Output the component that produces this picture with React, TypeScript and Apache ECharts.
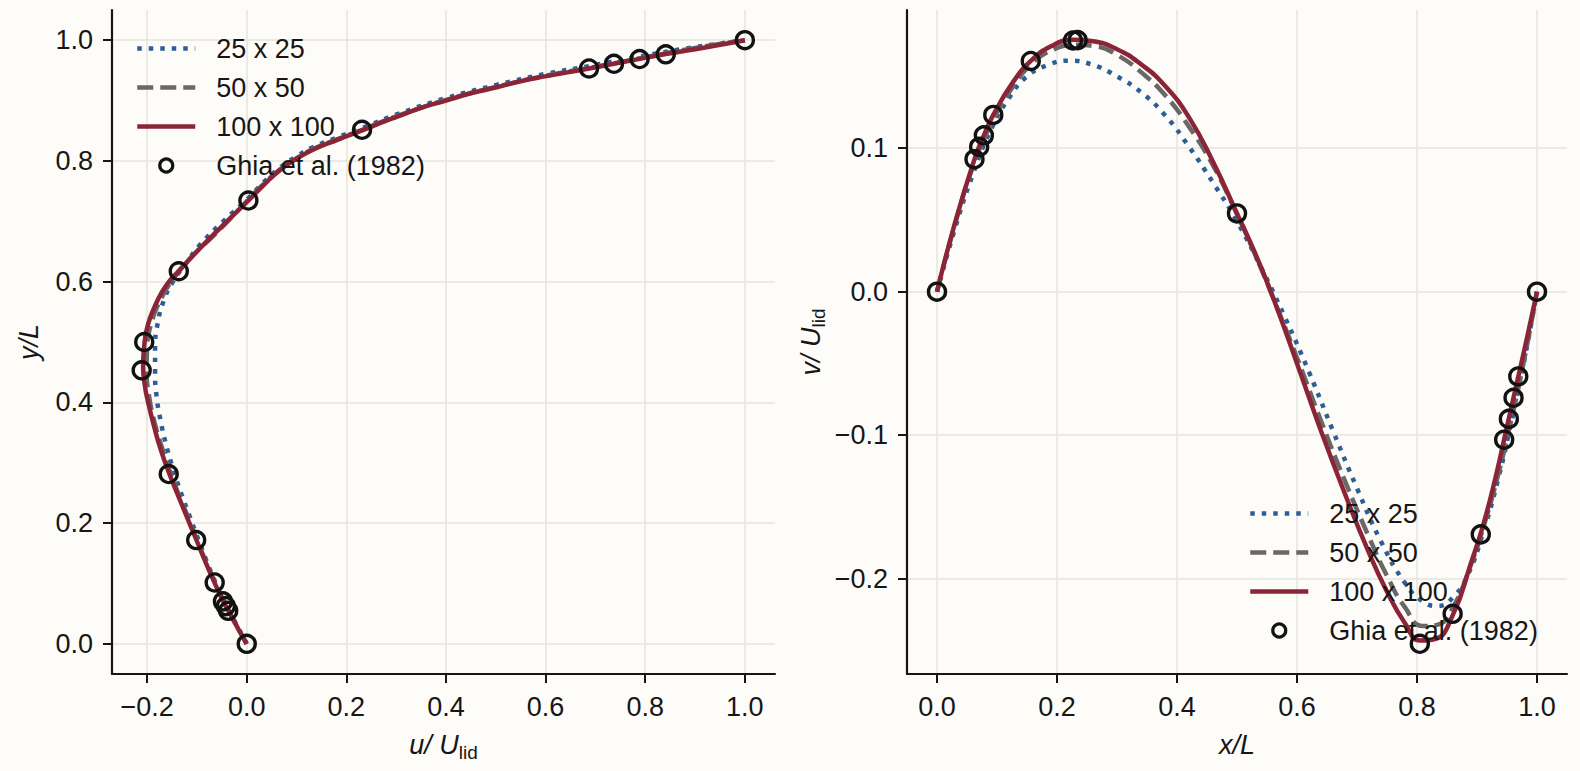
import React, { useEffect, useRef } from "react";
import * as echarts from "echarts";

// ---- u-velocity along the vertical centreline (x = u/U_lid, y = y/L) ----
const ghiaUY = [0, 0.0547, 0.0625, 0.0703, 0.1016, 0.1719, 0.2813, 0.4531, 0.5, 0.6172, 0.7344, 0.8516, 0.9531, 0.9609, 0.9688, 0.9766, 1];
const ghiaU = [0, -0.03717, -0.04192, -0.04775, -0.06434, -0.1015, -0.15662, -0.2109, -0.20581, -0.13641, 0.00332, 0.23151, 0.68717, 0.73722, 0.78871, 0.84123, 1];

const u25Y = [0, 0.04, 0.07, 0.1, 0.14, 0.172, 0.21, 0.25, 0.29, 0.33, 0.37, 0.41, 0.45, 0.49, 0.53, 0.57, 0.6, 0.63, 0.66, 0.7, 0.738, 0.764, 0.789, 0.807, 0.823, 0.839, 0.855, 0.877, 0.904, 0.926, 0.944, 0.957, 0.973, 0.986, 1];
const u25 = [0, -0.026, -0.045, -0.062, -0.082, -0.097, -0.114, -0.132, -0.148, -0.162, -0.173, -0.181, -0.184, -0.184, -0.179, -0.166, -0.148, -0.122, -0.095, -0.047, 0.003, 0.033, 0.067, 0.099, 0.134, 0.182, 0.233, 0.301, 0.4, 0.502, 0.599, 0.687, 0.789, 0.88, 1];

const u50Y = [0, 0.04, 0.07, 0.1, 0.14, 0.172, 0.21, 0.25, 0.29, 0.33, 0.37, 0.41, 0.45, 0.49, 0.53, 0.57, 0.605, 0.64, 0.68, 0.735, 0.761, 0.786, 0.804, 0.82, 0.836, 0.852, 0.874, 0.901, 0.923, 0.941, 0.954, 0.97, 0.985, 1];
const u50 = [0, -0.027, -0.046, -0.063, -0.084, -0.1, -0.118, -0.138, -0.156, -0.172, -0.186, -0.196, -0.201, -0.2, -0.192, -0.173, -0.147, -0.112, -0.062, 0.002, 0.033, 0.067, 0.099, 0.134, 0.182, 0.233, 0.301, 0.4, 0.502, 0.599, 0.687, 0.789, 0.885, 1];

const u100Y = [0, 0.02, 0.04, 0.055, 0.07, 0.1, 0.14, 0.172, 0.21, 0.25, 0.281, 0.32, 0.36, 0.4, 0.43, 0.46, 0.5, 0.52, 0.54, 0.56, 0.58, 0.6, 0.617, 0.65, 0.69, 0.734, 0.76, 0.785, 0.803, 0.819, 0.835, 0.851, 0.865, 0.873, 0.888, 0.9, 0.912, 0.922, 0.932, 0.94, 0.953, 0.961, 0.969, 0.977, 0.988, 1];
const u100 = [0, -0.014, -0.027, -0.037, -0.047, -0.064, -0.085, -0.101, -0.12, -0.14, -0.155, -0.172, -0.186, -0.198, -0.205, -0.208, -0.205, -0.201, -0.194, -0.184, -0.172, -0.156, -0.137, -0.1, -0.052, 0.003, 0.034, 0.067, 0.099, 0.134, 0.182, 0.233, 0.275, 0.301, 0.35, 0.4, 0.45, 0.502, 0.55, 0.599, 0.687, 0.737, 0.789, 0.841, 0.92, 1];

// ---- v-velocity along the horizontal centreline (x = x/L, y = v/U_lid) ----
const ghiaX = [0, 0.0625, 0.0703, 0.0781, 0.0938, 0.1563, 0.2266, 0.2344, 0.5, 0.8047, 0.8594, 0.9063, 0.9453, 0.9531, 0.9609, 0.9688, 1];
const ghiaV = [0, 0.09233, 0.10091, 0.1089, 0.12317, 0.16077, 0.17507, 0.17527, 0.05454, -0.24533, -0.22445, -0.16914, -0.10313, -0.08864, -0.07391, -0.05906, 0];

const v25X = [0, 0.03, 0.06, 0.09, 0.12, 0.15, 0.185, 0.22, 0.26, 0.3, 0.34, 0.38, 0.42, 0.46, 0.5, 0.54, 0.58, 0.62, 0.66, 0.7, 0.74, 0.78, 0.81, 0.835, 0.86, 0.885, 0.91, 0.935, 0.955, 0.975, 1];
const v25 = [0, 0.044, 0.082, 0.113, 0.135, 0.15, 0.158, 0.161, 0.158, 0.15, 0.139, 0.123, 0.101, 0.076, 0.049, 0.017, -0.018, -0.056, -0.097, -0.137, -0.174, -0.203, -0.216, -0.219, -0.213, -0.197, -0.168, -0.131, -0.095, -0.056, 0];

const v50X = [0, 0.03, 0.0625, 0.094, 0.125, 0.156, 0.19, 0.23, 0.265, 0.3, 0.34, 0.38, 0.42, 0.46, 0.5, 0.53, 0.56, 0.6, 0.64, 0.68, 0.72, 0.75, 0.78, 0.81, 0.835, 0.86, 0.89, 0.91, 0.935, 0.955, 0.975, 1];
const v50 = [0, 0.047, 0.09, 0.12, 0.142, 0.158, 0.168, 0.172, 0.171, 0.165, 0.153, 0.137, 0.115, 0.088, 0.054, 0.026, -0.004, -0.046, -0.09, -0.132, -0.171, -0.198, -0.22, -0.233, -0.232, -0.22, -0.19, -0.165, -0.128, -0.093, -0.055, 0];

const v100X = [0, 0.03, 0.0625, 0.0781, 0.0938, 0.125, 0.1563, 0.19, 0.227, 0.26, 0.3, 0.34, 0.38, 0.42, 0.46, 0.5, 0.53, 0.56, 0.6, 0.64, 0.68, 0.72, 0.75, 0.78, 0.805, 0.83, 0.86, 0.89, 0.91, 0.93, 0.95, 0.97, 0.985, 1];
const v100 = [0, 0.048, 0.0923, 0.1089, 0.1232, 0.145, 0.1608, 0.171, 0.1755, 0.1745, 0.169, 0.1585, 0.1435, 0.1215, 0.0905, 0.0545, 0.027, -0.004, -0.05, -0.097, -0.141, -0.182, -0.209, -0.231, -0.243, -0.242, -0.225, -0.189, -0.163, -0.131, -0.094, -0.057, -0.029, 0];

const xTicks = [-0.2, 0, 0.2, 0.4, 0.6, 0.8, 1.0];
const yTicks = [0, 0.2, 0.4, 0.6, 0.8, 1.0];
const xTicksR = [0, 0.2, 0.4, 0.6, 0.8, 1.0];
const vTicks = [-0.2, -0.1, 0, 0.1];

const names = ["25 x 25", "50 x 50", "100 x 100", "Ghia et al. (1982)"];

const FONT = "'Liberation Sans', Arial, Helvetica, sans-serif";
const INK = "#161616";
const BLUE = "#2d5e95";
const GREY = "#6a6866";
const RED = "#8c2437";
const LW = 4.5;

const zip = (a: number[], b: number[]) => a.map((v, i) => [v, b[i]]);

const fmt = (v: number) => v.toFixed(1).replace("-", "\u2212");

const rich = {
  i: { fontStyle: "italic", fontSize: 27, fontFamily: FONT, color: INK, lineHeight: 34 },
  s: { fontSize: 19, fontFamily: FONT, color: INK, lineHeight: 16, verticalAlign: "bottom" },
};

function axis(gridIndex: number, min: number, max: number, ticks: number[], name: string, nameGap: number) {
  return {
    type: "value",
    gridIndex,
    min,
    max,
    name,
    nameLocation: "middle",
    nameGap,
    nameTextStyle: { fontFamily: FONT, fontSize: 27, color: INK, rich },
    axisLine: { onZero: false, lineStyle: { color: INK, width: 2.2 } },
    axisTick: { show: true, length: 9, customValues: ticks, lineStyle: { color: INK, width: 2 } },
    axisLabel: { customValues: ticks, formatter: fmt, color: INK, fontSize: 27, fontFamily: FONT, margin: 19 },
    splitLine: { show: true, lineStyle: { color: "#e6e4df", width: 1.5 } },
  };
}

function lines(xi: number, d25: number[][], d50: number[][], d100: number[][], ghia: number[][]) {
  const common = { type: "line", xAxisIndex: xi, yAxisIndex: xi, symbol: "none", smooth: 0.5 };
  return [
    { ...common, name: names[0], data: d25, color: BLUE, lineStyle: { color: BLUE, width: LW, type: [4.5, 7] } },
    { ...common, name: names[1], data: d50, color: GREY, lineStyle: { color: GREY, width: LW, type: [16, 7] } },
    { ...common, name: names[2], data: d100, color: RED, lineStyle: { color: RED, width: LW } },
    {
      type: "scatter",
      name: names[3],
      xAxisIndex: xi,
      yAxisIndex: xi,
      data: ghia,
      symbol: "circle",
      symbolSize: 17,
      z: 5,
      itemStyle: { color: "rgba(0,0,0,0)", borderColor: "#121212", borderWidth: 3.4, opacity: 1 },
    },
  ];
}

function legend(left: number, top: number) {
  return {
    data: [
      { name: names[0], itemStyle: { opacity: 0 } },
      { name: names[1], itemStyle: { opacity: 0 } },
      { name: names[2], itemStyle: { opacity: 0 } },
      { name: names[3], itemStyle: { color: "rgba(0,0,0,0)", borderColor: "#121212", borderWidth: 3.2, opacity: 1 } },
    ],
    orient: "vertical",
    left,
    top,
    padding: 0,
    itemWidth: 58,
    itemHeight: 13,
    itemGap: 8,
    selectedMode: false,
    lineStyle: { width: LW },
    textStyle: { fontFamily: FONT, fontSize: 27, color: INK, lineHeight: 31, padding: [0, 0, 0, 16] },
  };
}

export default function App() {
  const ref = useRef<HTMLDivElement>(null);

  useEffect(() => {
    const chart = echarts.init(ref.current, null, { renderer: "svg" });
    chart.setOption({
      animation: false,
      backgroundColor: "#fdfcf8",
      grid: [
        { left: 112, top: 10, width: 663, height: 664 },
        { left: 907, top: 10, width: 660, height: 664 },
      ],
      legend: [legend(135, 33), legend(1248, 498)],
      xAxis: [
        axis(0, -0.2705, 1.0605, xTicks, "{i|u/ U}{s|lid}", 54),
        axis(1, -0.05, 1.05, xTicksR, "{i|x/L}", 54),
      ],
      yAxis: [
        axis(0, -0.05, 1.05, yTicks, "{i|y/L}", 66),
        axis(1, -0.2664, 0.1963, vTicks, "{i|v/ U}{s|lid}", 79),
      ],
      series: [
        ...lines(0, zip(u25, u25Y), zip(u50, u50Y), zip(u100, u100Y), zip(ghiaU, ghiaUY)),
        ...lines(1, zip(v25X, v25), zip(v50X, v50), zip(v100X, v100), zip(ghiaX, ghiaV)),
      ],
    });
    return () => chart.dispose();
  }, []);

  return <div ref={ref} style={{ position: "fixed", left: 0, top: 0, width: 1580, height: 771 }} />;
}
